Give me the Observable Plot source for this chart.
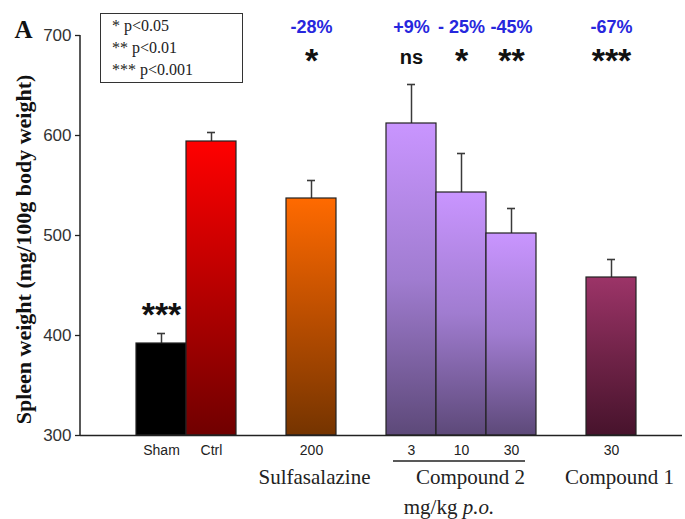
<!DOCTYPE html>
<html>
<head>
<meta charset="utf-8">
<script src="https://cdn.jsdelivr.net/npm/d3@7"></script>
<script src="https://cdn.jsdelivr.net/npm/@observablehq/plot@0.6"></script>
<style>
  body { margin: 0; background: #fff; }
  #chart { position: relative; width: 685px; height: 519px; }
  #key {
    position: absolute; left: 100px; top: 13px; width: 143px; height: 70px;
    box-sizing: border-box; border: 1px solid #333; padding: 1px 0 0 11px;
    font-family: "Liberation Serif", "Times New Roman", serif; font-size: 16px;
    line-height: 22px; color: #222; background: #fff;
  }
  #key .s { margin-right: 4px; }
</style>
</head>
<body>
<div id="chart"></div>
<script>
// Spleen weight per treatment group (mean ± SEM, mg/100 g body weight)
const groups = ["Sham", "Ctrl", "Sulfasalazine 200", "Compound 2 3", "Compound 2 10", "Compound 2 30", "Compound 1 30"];
const tickLabels = ["Sham", "Ctrl", "200", "3", "10", "30", "30"];
const means = [392, 594, 537, 612, 543, 502, 458];
const sems = [10, 9, 18, 39, 39, 25, 18];

// Change vs. Ctrl and significance for the treated groups
const comparedGroups = ["Sulfasalazine 200", "Compound 2 3", "Compound 2 10", "Compound 2 30", "Compound 1 30"];
const changeLabels = ["-28%", "+9%", "- 25%", "-45%", "-67%"];
const sigLabels = ["*", "ns", "*", "**", "***"];
const shamSig = "***";

// Treatment names under the dose labels
const treatmentNames = ["Sulfasalazine", "Compound 2", "Compound 1"];
const treatmentAt = ["Sulfasalazine 200", "Compound 2 10", "Compound 1 30"];
const doseUnit = "mg/kg";
const doseRoute = "p.o.";

// Significance key
const keyStars = ["*", "**", "***"];
const keyLevels = ["p<0.05", "p<0.01", "p<0.001"];

const yDomain = [300, 700];
const yTicks = [300, 400, 500, 600, 700];
const yLabel = "Spleen weight (mg/100g body weight)";

// ---- build tables ----
const rows = groups.map((g, i) => ({group: g, label: tickLabels[i], mean: means[i], sem: sems[i], top: means[i] + sems[i], shade: `url(#shade-${i})`}));
const comparisons = comparedGroups.map((g, i) => ({group: g, change: changeLabels[i], sig: sigLabels[i]}));
const treatments = treatmentNames.map((n, i) => ({name: n, group: treatmentAt[i]}));

// band slots, with empty spacers between the treatment blocks
const slots = ["Sham", "Ctrl", "spacer-1", "Sulfasalazine 200", "spacer-2", "Compound 2 3", "Compound 2 10", "Compound 2 30", "spacer-3", "Compound 1 30"];

// vertical gradient (top, middle, bottom) per bar
const purple = ["#c995ff", "#a07cd0", "#5d4979"];
const shades = {
  "Sham": ["#000000", "#000000", "#000000"],
  "Ctrl": ["#ff0000", "#b80000", "#700000"],
  "Sulfasalazine 200": ["#ff6a00", "#bb4e00", "#753400"],
  "Compound 2 3": purple,
  "Compound 2 10": purple,
  "Compound 2 30": purple,
  "Compound 1 30": ["#9c3468", "#702348", "#47132c"]
};

const gradients = () => {
  const defs = d3.create("svg:defs");
  groups.forEach((g, i) => {
    const [a, b, c] = shades[g];
    const lg = defs.append("linearGradient").attr("id", `shade-${i}`)
      .attr("x1", 0).attr("y1", 0).attr("x2", 0).attr("y2", 1);
    lg.append("stop").attr("offset", 0).attr("stop-color", a);
    lg.append("stop").attr("offset", 0.5).attr("stop-color", b);
    lg.append("stop").attr("offset", 1).attr("stop-color", c);
  });
  return defs.node();
};

// left axis line from the bottom to the top of the y domain
const yAxisLine = (index, scales, values, dims) => {
  const line = d3.create("svg:line")
    .attr("x1", dims.marginLeft).attr("x2", dims.marginLeft)
    .attr("y1", scales.y(yDomain[0])).attr("y2", scales.y(yDomain[1]))
    .attr("stroke", "#222").attr("stroke-width", 1.5);
  return line.node();
};

// bracket under the Compound 2 doses and the dose unit
const doseBracket = (index, scales, values, dims) => {
  const x = scales.x;
  const bw = x(slots[1]) - x(slots[0]);
  const xa = x("Compound 2 3"), xb = x("Compound 2 30") + bw;
  const yb = dims.height - dims.marginBottom;
  const g = d3.create("svg:g");
  g.append("line").attr("x1", xa + 7).attr("x2", xb - 11)
    .attr("y1", yb + 26).attr("y2", yb + 26)
    .attr("stroke", "#222").attr("stroke-width", 1.6);
  const t = g.append("text").attr("x", (xa + xb) / 2 - 12).attr("y", yb + 79)
    .attr("text-anchor", "middle").attr("fill", "#222")
    .style("font-family", '"Liberation Serif", "Times New Roman", serif').style("font-size", "21px");
  t.append("tspan").text(doseUnit + " ");
  t.append("tspan").attr("font-style", "italic").text(doseRoute);
  return g.node();
};

const serif = '"Liberation Serif", "Times New Roman", serif';
const dark = "#3a3a3a";

const treatmentShift = {"Sulfasalazine": 3, "Compound 2": 9, "Compound 1": 8};

const plot = Plot.plot({
  width: 685,
  height: 519,
  marginTop: 35,
  marginBottom: 84,
  marginLeft: 80,
  marginRight: 3,
  style: {fontFamily: '"Liberation Sans", Arial, sans-serif', fontSize: "14px", color: "#222", background: "white", overflow: "visible"},
  x: {type: "band", domain: slots, range: [132, 640], padding: 0},
  y: {domain: yDomain},
  color: {type: "identity"},
  marks: [
    gradients,
    Plot.axisY({ticks: yTicks, tickSize: 5, tickPadding: 4, fontSize: 17, label: null, stroke: "#222", strokeWidth: 1.3, fill: "#333"}),
    Plot.axisX({ticks: groups, tickFormat: d => tickLabels[groups.indexOf(d)], tickSize: 0, tickPadding: 10, fontSize: 14, label: null, fill: "#222"}),
    Plot.ruleX(rows, {x: "group", y1: "mean", y2: "top", stroke: dark, strokeWidth: 1.5}),
    Plot.tickY(rows, {x: "group", y: "top", stroke: dark, strokeWidth: 1.6, insetLeft: 21, insetRight: 21}),
    Plot.barY(rows, {x: "group", y1: yDomain[0], y2: "mean", fill: "shade", stroke: "#222", strokeWidth: 1.2}),
    Plot.ruleY([yDomain[0]], {stroke: "#222", strokeWidth: 1.5}),
    yAxisLine,
    // change vs. Ctrl
    Plot.text(comparisons, {x: "group", text: "change", frameAnchor: "top", lineAnchor: "middle", dy: -8, fill: "#2727dd", fontWeight: "bold", fontSize: 18}),
    // significance marks
    Plot.text(comparisons.filter(d => d.sig !== "ns"), {x: "group", text: "sig", frameAnchor: "top", lineAnchor: "middle", dy: 26, fill: "#111", fontWeight: "bold", fontSize: 34}),
    Plot.text(comparisons.filter(d => d.sig === "ns"), {x: "group", text: "sig", frameAnchor: "top", lineAnchor: "middle", dy: 22, fill: "#111", fontWeight: "bold", fontSize: 20}),
    Plot.text(rows.filter(d => d.group === "Sham"), {x: "group", y: "top", text: () => shamSig, lineAnchor: "middle", dy: -18, fill: "#111", fontWeight: "bold", fontSize: 34}),
    // treatment names
    ...treatments.map(t => Plot.text([t], {x: "group", text: "name", frameAnchor: "bottom", lineAnchor: "middle", dy: 42, dx: treatmentShift[t.name], fontFamily: serif, fontSize: 21, fill: "#222"})),
    doseBracket,
    // y axis title and panel letter
    Plot.text([yLabel], {text: d => d, frameAnchor: "left", textAnchor: "middle", lineAnchor: "middle", rotate: -90, dx: -57, dy: 14, fontFamily: serif, fontWeight: "bold", fontSize: 22, fill: "#111"}),
    Plot.text(["A"], {text: d => d, frameAnchor: "top-left", textAnchor: "middle", lineAnchor: "middle", dx: -57, dy: -6, fontFamily: serif, fontWeight: "bold", fontSize: 25, fill: "#111"})
  ]
});

const chart = document.getElementById("chart");
chart.appendChild(plot);

const key = document.createElement("div");
key.id = "key";
keyStars.forEach((s, i) => {
  const line = document.createElement("div");
  const star = document.createElement("span");
  star.className = "s";
  star.textContent = s;
  line.appendChild(star);
  line.appendChild(document.createTextNode(keyLevels[i]));
  key.appendChild(line);
});
chart.appendChild(key);
</script>
</body>
</html>
